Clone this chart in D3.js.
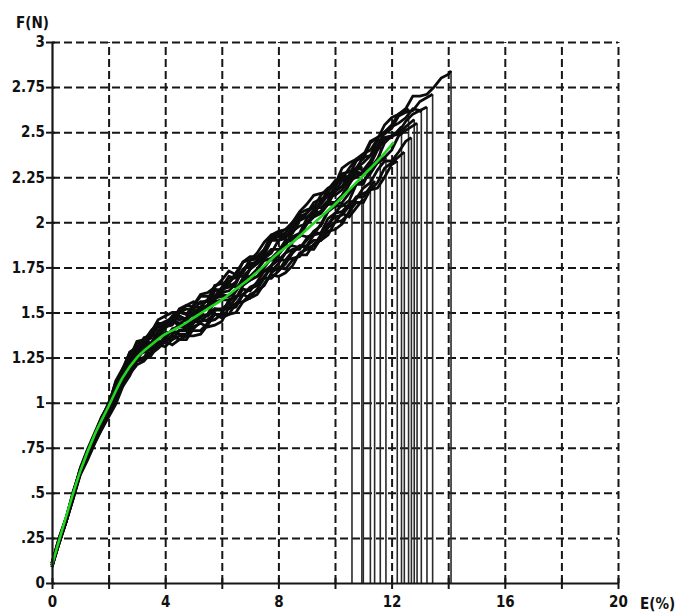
<!DOCTYPE html>
<html>
<head>
<meta charset="utf-8">
<script src="https://cdn.jsdelivr.net/npm/d3@7"></script>
<style>
  html, body { margin: 0; padding: 0; background: #fff; }
  svg { display: block; }
  text { font-family: "DejaVu Sans Condensed", "DejaVu Sans", Verdana, sans-serif; font-stretch: condensed; font-weight: bold; fill: #111; }
</style>
</head>
<body>
<svg id="chart" width="686" height="614"></svg>
<script>
// Tensile test: force F (N) against elongation E (%) for a batch of specimens,
// with the batch's average curve drawn in green.

// Shared strain grid (E, %) on which every specimen force is sampled
const strainGrid = [0, 0.25, 0.5, 0.75, 1, 1.25, 1.5, 1.75, 2, 2.25, 2.5, 2.75, 3, 3.25,
  3.5, 3.75, 4, 4.25, 4.5, 4.75, 5, 5.25, 5.5, 5.75, 6, 6.25, 6.5, 6.75, 7, 7.25,
  7.5, 7.75, 8, 8.25, 8.5, 8.75, 9, 9.25, 9.5, 9.75, 10, 10.25, 10.5, 10.75, 11,
  11.25, 11.5, 11.75, 12, 12.25, 12.5, 12.75, 13, 13.25, 13.5, 13.75, 14];

// Average curve (N) at every half percent, plus its last point
const meanStrain = [0, 0.5, 1, 1.5, 2, 2.5, 3, 3.5, 4, 4.5, 5, 5.5, 6, 6.5, 7, 7.5, 8,
  8.5, 9, 9.5, 10, 10.5, 11, 11.5, 12, 12.05];
const meanForce = [0.10, 0.37, 0.62, 0.82, 0.98, 1.14, 1.25, 1.32, 1.38, 1.42, 1.47,
  1.52, 1.57, 1.63, 1.69, 1.76, 1.83, 1.89, 1.96, 2.03, 2.10, 2.18, 2.26, 2.34, 2.43, 2.44];

// Individual specimens, force in cN on the strain grid, up to the point of break
const specimen01 = [10,22,34,48,61,70,79,86,95,105,111,117,126,131,129,132,137,140,138,138,144,148,149,152,151,153,158,163,162,167,173,173,177,183,185,185,191,194,194,202,205,206,210];
const specimen02 = [11,24,36,50,63,72,82,90,97,106,118,126,128,132,138,142,142,143,150,152,151,151,154,162,163,164,167,174,177,178,182,190,192,192,194,201,203,205,212,216,217,220,226];
const specimen03 = [9,22,34,47,61,70,78,87,94,106,112,116,121,123,128,132,131,135,137,137,142,144,142,143,145,153,155,156,160,162,165,172,175,174,179,182,182,188,190,193,200,205,203];
const specimen04 = [10,23,35,50,62,71,80,87,95,106,113,119,129,134,133,137,142,145,143,142,146,151,153,158,159,159,162,169,170,174,179,179,183,189,190,192,199,203,205,210,210,214,221,227,226];
const specimen05 = [9,23,34,48,61,69,78,86,93,101,112,121,124,125,127,133,135,135,140,141,140,140,144,151,152,152,153,160,163,165,170,175,173,177,183,187,186,187,193,199,203,204,209,214,214];
const specimen06 = [11,24,36,49,63,73,82,91,98,112,119,123,129,132,139,143,143,148,151,149,152,156,156,159,164,170,169,172,179,180,183,191,194,192,196,202,205,211,213,214,219,227,228,230,233,237,245];
const specimen07 = [10,23,35,50,62,71,79,87,96,108,115,118,125,132,133,133,135,141,142,142,147,149,148,152,152,155,162,168,168,170,173,176,182,187,187,186,190,195,198,206,209,209,212,221,223,227,233];
const specimen08 = [9,23,34,47,60,68,77,85,92,99,109,119,123,124,126,132,134,132,135,137,137,138,143,149,149,149,150,156,158,160,166,171,170,172,176,183,185,185,191,195,196,199,206,211,211,218,219,225,232];
const specimen09 = [10,23,35,48,63,72,81,90,96,110,117,123,130,130,133,140,143,147,148,146,149,153,153,157,162,166,164,167,174,177,181,185,185,187,195,198,199,205,206,210,217,223,223,225,228,232,240,246,247];
const specimen10 = [9,22,34,49,61,70,78,85,94,104,109,115,124,129,127,130,134,137,135,135,141,145,146,149,147,149,155,160,158,163,169,169,173,179,180,181,187,190,190,197,200,201,205,214,216,218,222,230,233];
const specimen11 = [11,25,36,50,63,72,82,90,98,107,119,128,130,134,140,144,144,145,152,154,153,153,157,165,166,167,170,178,181,181,185,193,195,196,198,205,207,208,215,219,221,224,230,235,235,244,247,250,254,260,262];
const specimen12 = [10,22,34,47,61,70,79,88,95,108,114,118,123,125,131,134,133,138,140,140,145,147,145,146,149,157,159,160,164,166,169,176,179,179,184,187,187,193,194,198,205,210,208,213,219,222,229,234,234,239,245];
const specimen13 = [10,23,35,50,62,72,81,88,96,107,113,119,129,134,133,137,143,146,144,143,147,152,154,159,160,159,162,169,170,174,179,180,184,190,191,193,200,204,206,211,211,215,222,228,227,230,235,244,248,249,253];
const specimen14 = [10,24,35,49,62,70,80,88,95,103,114,124,127,128,130,137,139,139,144,146,145,145,149,156,157,157,158,165,168,170,175,180,179,183,189,193,192,193,199,206,210,211,216,221,221,230,233,236,240,248,251];
const specimen15 = [11,24,36,49,63,73,82,92,99,111,116,124,133,133,136,143,145,147,146,147,154,159,159,159,161,169,170,170,174,179,185,190,190,191,198,203,205,209,208,212,220,226,225,230,236,237,242,250,253,255,258,263,262];
const specimen16 = [10,23,36,51,63,72,81,88,97,109,117,121,128,136,137,138,141,147,148,146,150,153,153,159,161,162,166,174,176,177,180,183,190,193,192,194,202,207,210,215,215,218,224,230,229,234,241,247,248,250,256,260,262];
const specimen17 = [11,25,36,50,63,72,82,91,100,107,118,128,131,134,139,143,143,144,150,154,156,155,157,163,162,166,172,178,179,180,184,192,194,196,200,204,203,204,211,218,223,223,226,234,237,245,247,249,252,259,261,262,267];
const specimen18 = [11,24,36,49,64,74,83,92,99,111,117,125,134,135,139,146,148,150,150,149,154,160,161,164,168,173,171,173,179,183,189,193,193,194,200,206,210,215,216,217,221,230,233,235,238,240,246,254,258,260,263,270,270,271,275,280,282];

const specimens = [specimen01, specimen02, specimen03, specimen04, specimen05, specimen06,
  specimen07, specimen08, specimen09, specimen10, specimen11, specimen12,
  specimen13, specimen14, specimen15, specimen16, specimen17, specimen18];

// Break point of each specimen: elongation (%) and force (N)
const breakStrain = [10.6, 10.95, 11.0, 11.25, 11.4, 11.6, 11.8, 12.2, 12.35, 12.45,
  12.6, 12.7, 12.8, 12.9, 13.05, 13.25, 13.45, 14.1];
const breakForce = [2.12, 2.31, 2.13, 2.31, 2.23, 2.46, 2.36, 2.34, 2.53, 2.39,
  2.63, 2.47, 2.57, 2.55, 2.61, 2.64, 2.71, 2.84];

// Axis ticks and labels
const xTickValues = [0, 2, 4, 6, 8, 10, 12, 14, 16, 18, 20];
const xTickLabels = ["0", "", "4", "", "8", "", "12", "", "16", "", "20"];
const yTickValues = [0, 0.25, 0.5, 0.75, 1, 1.25, 1.5, 1.75, 2, 2.25, 2.5, 2.75, 3];
const yTickLabels = ["0", ".25", ".5", ".75", "1", "1.25", "1.5", "1.75", "2", "2.25", "2.5", "2.75", "3"];
const xTitle = "E(%)";
const yTitle = "F(N)";

const svg = d3.select("#chart");
const x = d3.scaleLinear().domain([0, 20]).range([52, 618]);
const y = d3.scaleLinear().domain([0, 3]).range([583, 42]);
const ink = "#161616";
const fontSize = "15px";

// Dashed grid
const gridX = svg.append("g")
  .attr("transform", `translate(0,${y(0)})`)
  .call(d3.axisBottom(x).tickValues(xTickValues.slice(1)).tickSize(-(y(0) - y(3))).tickFormat(""));
gridX.select(".domain").remove();
gridX.selectAll("line").attr("stroke", ink).attr("stroke-width", 2).attr("stroke-dasharray", "8,4");

const gridY = svg.append("g")
  .attr("transform", `translate(${x(0)},0)`)
  .call(d3.axisRight(y).tickValues(yTickValues.slice(1)).tickSize(x(20) - x(0)).tickFormat(""));
gridY.select(".domain").remove();
gridY.selectAll("line").attr("stroke", ink).attr("stroke-width", 2).attr("stroke-dasharray", "8,4");

// Specimen curves up to break, then the drop to zero force
const line = d3.line().x(d => x(d[0])).y(d => y(d[1]));
const curves = specimens.map((forces, i) => {
  const pts = forces.map((cN, j) => [strainGrid[j], cN / 100]);
  pts.push([breakStrain[i], breakForce[i]]);
  return pts;
});
const drops = specimens.map((forces, i) => [[breakStrain[i], breakForce[i]], [breakStrain[i], 0]]);

svg.append("g")
  .selectAll("path")
  .data(drops)
  .join("path")
  .attr("d", line)
  .attr("fill", "none")
  .attr("stroke", "#2a2a2a")
  .attr("stroke-width", 1.6);

svg.append("g")
  .selectAll("path")
  .data(curves)
  .join("path")
  .attr("d", line)
  .attr("fill", "none")
  .attr("stroke", "#0c0c0c")
  .attr("stroke-width", 2.8)
  .attr("stroke-linejoin", "miter");

// Average curve
const meanPts = meanForce.map((f, j) => [meanStrain[j], f]);
svg.append("path")
  .datum(meanPts)
  .attr("d", d3.line().x(d => x(d[0])).y(d => y(d[1])).curve(d3.curveMonotoneX))
  .attr("fill", "none")
  .attr("stroke", "#22d622")
  .attr("stroke-width", 2.6)
  .attr("stroke-linecap", "round");

// Axes
const yAxis = svg.append("g")
  .attr("transform", `translate(${x(0)},0)`)
  .call(d3.axisLeft(y).tickValues(yTickValues).tickSize(6).tickSizeOuter(0).tickPadding(1)
    .tickFormat((d, i) => yTickLabels[i]));
const yAxisIn = svg.append("g")
  .attr("transform", `translate(${x(0)},0)`)
  .call(d3.axisRight(y).tickValues(yTickValues).tickSize(3).tickSizeOuter(0).tickFormat(""));
yAxisIn.select(".domain").remove();

const xAxis = svg.append("g")
  .attr("transform", `translate(0,${y(0)})`)
  .call(d3.axisBottom(x).tickValues(xTickValues).tickSize(6).tickSizeOuter(0).tickPadding(7)
    .tickFormat((d, i) => xTickLabels[i]));
const xAxisIn = svg.append("g")
  .attr("transform", `translate(0,${y(0)})`)
  .call(d3.axisTop(x).tickValues(xTickValues).tickSize(5).tickSizeOuter(0).tickFormat(""));
xAxisIn.select(".domain").remove();

[yAxis, yAxisIn, xAxis, xAxisIn].forEach(g => {
  g.selectAll(".domain").attr("stroke", ink).attr("stroke-width", 2.2);
  g.selectAll(".tick line").attr("stroke", ink).attr("stroke-width", 2);
});
[yAxis, xAxis].forEach(g => {
  g.selectAll(".tick text")
    .attr("fill", "#111")
    .style("font-family", "'DejaVu Sans Condensed', 'DejaVu Sans', Verdana, sans-serif")
    .style("font-stretch", "condensed")
    .style("font-weight", "bold")
    .style("font-size", fontSize);
});

// Axis titles
svg.append("text").attr("x", 16).attr("y", 28).style("font-size", fontSize).text(yTitle);
svg.append("text").attr("x", 640).attr("y", 609).style("font-size", fontSize).text(xTitle);
</script>
</body>
</html>
